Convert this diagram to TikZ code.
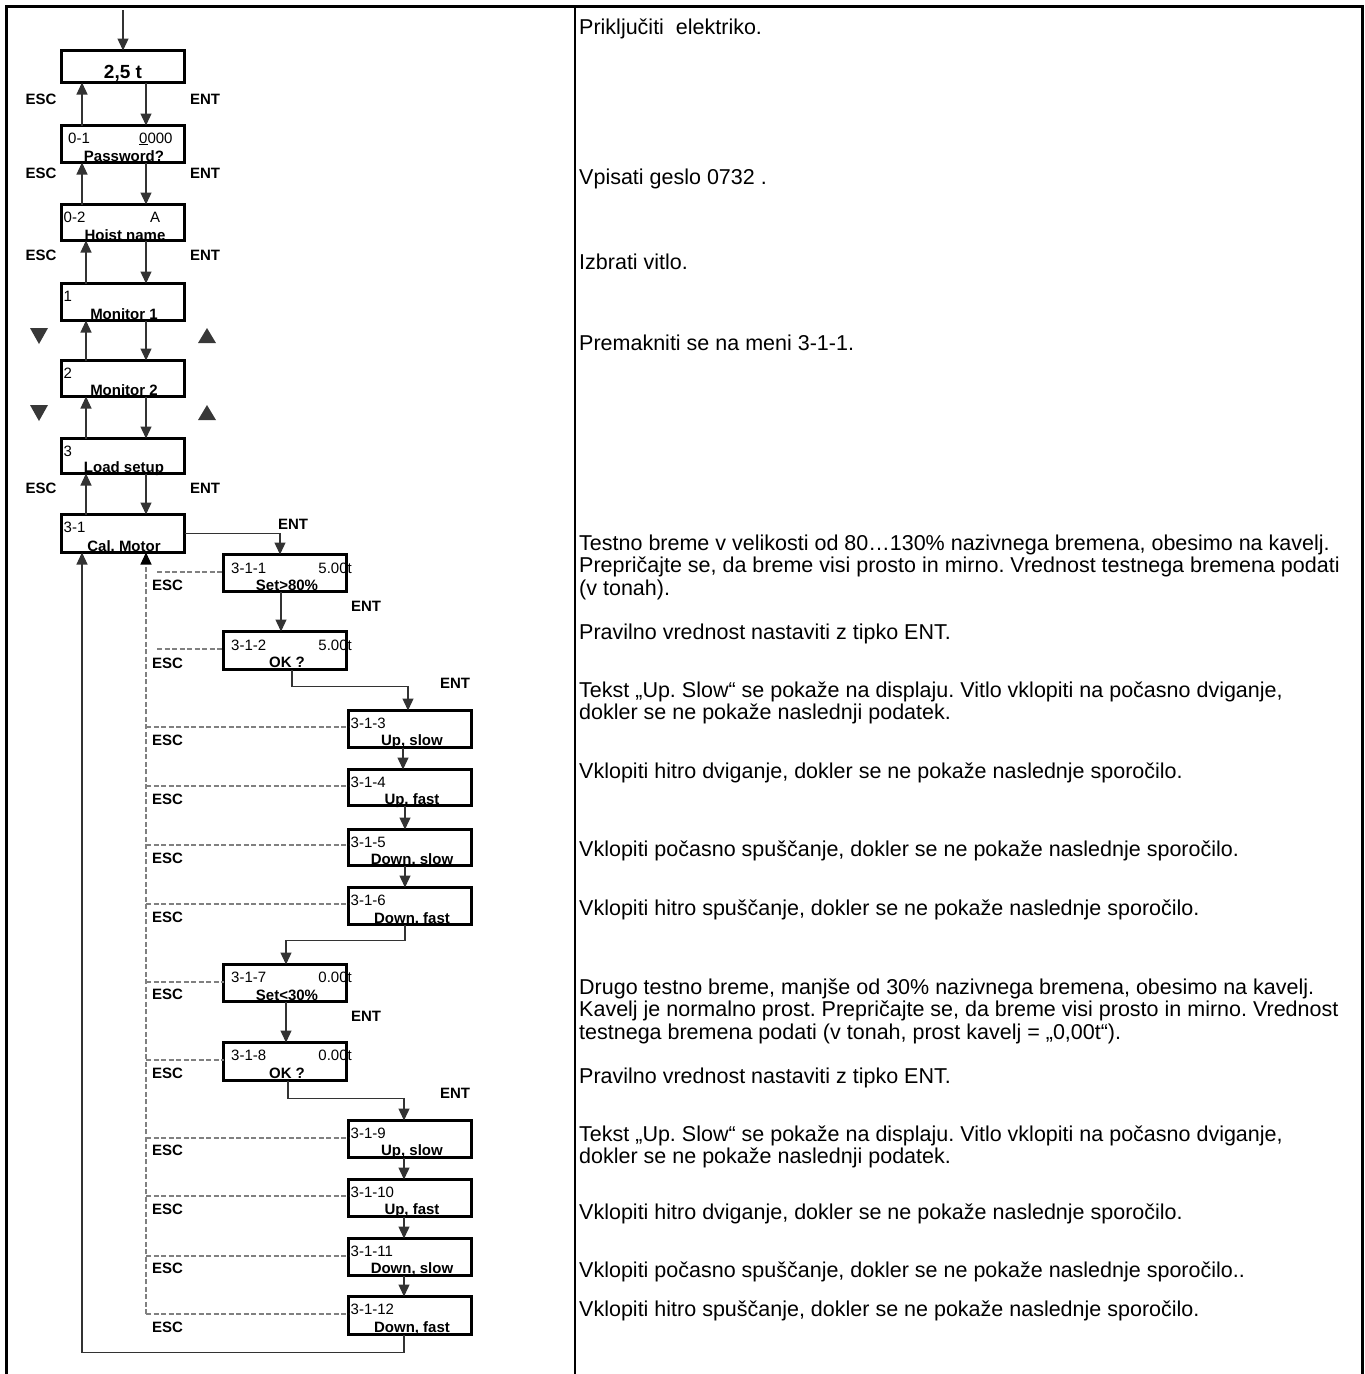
\documentclass[tikz,border=0pt]{standalone}
\usepackage{fontspec}
\setmainfont{Liberation Sans}
\usetikzlibrary{arrows.meta,calc}
\pgfdeclarelayer{txt}
\pgfsetlayers{txt,main}
\frenchspacing

\tikzset{
  lcd/.style={draw=black, line width=3pt, inner sep=0pt, outer sep=0pt},
  con/.style={draw=black!80, line width=1.3pt},
  arr/.style={con, -{Triangle[width=11pt,length=12pt]}},
  dsh/.style={draw=black!50, line width=1.2pt, dash pattern=on 5pt off 2.5pt},
  dsharr/.style={dsh, -{Triangle[width=11pt,length=12pt,color=black]}},
  key/.style={font=\fontsize{15}{15}\selectfont\bfseries, inner sep=0pt},
  tl/.style={font=\fontsize{15}{15}\selectfont, inner sep=0pt, anchor=base west},
  tr/.style={font=\fontsize{15}{15}\selectfont, inner sep=0pt, anchor=base east},
  bl/.style={font=\fontsize{15}{15}\selectfont\bfseries, inner sep=0pt, anchor=base},
  note/.style={font=\fontsize{21.5}{22.5}\selectfont, inner sep=0pt, anchor=base west, align=left},
  frame/.style={draw=black, line width=3pt},
  tri/.style={fill=black!78},
}

% box from outer corners (x1,y1)-(x2,y2), y measured downwards
\newcommand\lcdbox[5]{%
  \node[lcd, minimum width={#4-#2-3}, minimum height={#5-#3-3}]
    (#1) at ({(#2+#4)/2},{(#3+#5)/2}) {};}

\begin{document}
\begin{tikzpicture}[x=1pt,y=-1pt]
\useasboundingbox (0,0) rectangle (1365,1374);

% table frame
\draw[frame] (6,1374) -- (6,6) -- (1362,6) -- (1362,1374);
\draw[draw=black, line width=2pt] (575,6) -- (575,1374);

% ---------- menu displays ----------
\lcdbox{b0}{60}{49}{186}{84}
\lcdbox{b01}{60}{124}{186}{164}
\lcdbox{b02}{60}{203}{186}{242}
\lcdbox{b1}{60}{282}{186}{322}
\lcdbox{b2}{60}{359}{186}{398}
\lcdbox{b3}{60}{437}{186}{475}
\lcdbox{b31}{60}{513}{186}{554}
\lcdbox{c1}{222}{553}{348}{593}
\lcdbox{c2}{222}{630}{348}{671}
\lcdbox{c3}{347}{709}{473}{749}
\lcdbox{c4}{347}{768}{473}{807}
\lcdbox{c5}{347}{828}{473}{867}
\lcdbox{c6}{347}{886}{473}{926}
\lcdbox{c7}{222}{963}{348}{1003}
\lcdbox{c8}{222}{1041}{348}{1082}
\lcdbox{c9}{347}{1119}{473}{1159}
\lcdbox{c10}{347}{1178}{473}{1218}
\lcdbox{c11}{347}{1237}{473}{1277}
\lcdbox{c12}{347}{1295}{473}{1336}

% display texts (under the box borders)
\begin{pgfonlayer}{txt}
\node[font=\fontsize{19}{19}\selectfont\bfseries, inner sep=0pt, anchor=base] at (123,78) {2,5 t};
\node[tl] at (68,143) {0-1};
\node[tl] at (139,143) {\underline{0}000};
\node[bl] at (124,161) {Password?};
\node[tl] at (63.5,222) {0-2};
\node[tl] at (150,222) {A};
\node[bl] at (125,240) {Hoist name};
\node[tl] at (63.5,301) {1};
\node[bl] at (124,319) {Monitor 1};
\node[tl] at (63.5,378) {2};
\node[bl] at (124,395) {Monitor 2};
\node[tl] at (63.5,456) {3};
\node[bl] at (124,472) {Load setup};
\node[tl] at (63.5,532) {3-1};
\node[bl] at (124,551) {Cal. Motor};
\node[tl] at (231,573) {3-1-1};
\node[tr] at (352,573) {5.00t};
\node[bl] at (287,590) {Set>80\%};
\node[tl] at (231,650) {3-1-2};
\node[tr] at (352,650) {5.00t};
\node[bl] at (287,667) {OK ?};
\node[tl] at (350.5,728) {3-1-3};
\node[bl] at (412,745) {Up, slow};
\node[tl] at (350.5,787) {3-1-4};
\node[bl] at (412,804) {Up, fast};
\node[tl] at (350.5,847) {3-1-5};
\node[bl] at (412,864) {Down, slow};
\node[tl] at (350.5,905) {3-1-6};
\node[bl] at (412,923) {Down, fast};
\node[tl] at (231,982) {3-1-7};
\node[tr] at (352,982) {0.00t};
\node[bl] at (287,1000) {Set<30\%};
\node[tl] at (231,1060) {3-1-8};
\node[tr] at (352,1060) {0.00t};
\node[bl] at (287,1078) {OK ?};
\node[tl] at (350.5,1138) {3-1-9};
\node[bl] at (412,1155) {Up, slow};
\node[tl] at (350.5,1197) {3-1-10};
\node[bl] at (412,1214) {Up, fast};
\node[tl] at (350.5,1256) {3-1-11};
\node[bl] at (412,1273) {Down, slow};
\node[tl] at (350.5,1314) {3-1-12};
\node[bl] at (412,1332) {Down, fast};
\end{pgfonlayer}

% ---------- key labels ----------
\node[key] (esc0) at (41,99) {ESC};  \node[key] (ent0) at (205,99) {ENT};
\node[key] (esc1) at (41,173) {ESC}; \node[key] (ent1) at (205,173) {ENT};
\node[key] (esc2) at (41,255) {ESC}; \node[key] (ent2) at (205,255) {ENT};
\node[key] (esc3) at (41,488) {ESC}; \node[key] (ent3) at (205,488) {ENT};
\node[key] (ent4) at (293,524) {ENT};
\node[key] (ent5) at (366,606) {ENT};
\node[key] (ent6) at (455,683) {ENT};
\node[key] (ent7) at (366,1016) {ENT};
\node[key] (ent8) at (455,1093) {ENT};
\foreach \y/\n in {585/1,663/2,740/3,799/4,858/5,917/6,994/7,1073/8,1150/9,1209/10,1268/11,1327/12}
  \node[key, anchor=west] (escc\n) at (152,\y) {ESC};

% down / up key symbols
\foreach \y in {336,413}{
  \fill[tri] (30,\y-8) -- (48,\y-8) -- (39,\y+8) -- cycle;
  \fill[tri] (198,\y+7) -- (216,\y+7) -- (207,\y-8) -- cycle;
}

% ---------- connectors: main menu ----------
\coordinate (start) at (123,10);
\draw[arr] (start) -- (b0.north);
\foreach \a/\b/\u in {b0/b01/-41,b01/b02/-41,b02/b1/-37,b1/b2/-37,b2/b3/-37,b3/b31/-37}{
  \draw[arr] ([xshift=23pt]\a.south) -- ([xshift=23pt]\b.north);
  \draw[arr] ([xshift=\u pt]\b.north) -- ([xshift=\u pt]\a.south);
}

% ---------- connectors: calibration sequence ----------
\draw[arr] (b31.east) -| ([xshift=-5pt]c1.north);
\draw[arr] ([xshift=-4pt]c1.south) -- ([xshift=-4pt]c2.north);
\draw[arr] ([xshift=7pt]c2.south) -- ++(0,17) -| ([xshift=-2pt]c3.north);
\draw[arr] ([xshift=-7pt]c3.south) -- ([xshift=-7pt]c4.north);
\draw[arr] ([xshift=-5pt]c4.south) -- ([xshift=-5pt]c5.north);
\draw[arr] ([xshift=-5pt]c5.south) -- ([xshift=-5pt]c6.north);
\draw[arr] ([xshift=-5pt]c6.south) -- ++(0,16) -| ([xshift=1pt]c7.north);
\draw[arr] ([xshift=1pt]c7.south) -- ([xshift=1pt]c8.north);
\draw[arr] ([xshift=3pt]c8.south) -- ++(0,18) -| ([xshift=-6pt]c9.north);
\draw[arr] ([xshift=-6pt]c9.south) -- ([xshift=-6pt]c10.north);
\draw[arr] ([xshift=-6pt]c10.south) -- ([xshift=-6pt]c11.north);
\draw[arr] ([xshift=-6pt]c11.south) -- ([xshift=-6pt]c12.north);
\draw[arr] ([xshift=-6pt]c12.south) -- ++(0,18) -| ([xshift=-41pt]b31.south);

% ESC returns (dashed)
\coordinate (escend) at (146,1314);
\draw[dsharr] (escend) -- ([xshift=23pt]b31.south);
\draw[dsh] (157,572) -- (c1.west |- 0,572);
\draw[dsh] (157,649) -- (c2.west |- 0,649);
\foreach \y/\n in {727/c3,786/c4,845/c5,904/c6,982/c7,1060/c8,1138/c9,1196/c10,1256/c11,1314/c12}
  \draw[dsh] (146,\y) -- (\n.west |- 0,\y);

% ---------- instructions (multi-line nodes sit on their last baseline) ----------
\node[note] (t1) at (579,34) {Priključiti\ \ elektriko.};
\node[note] (t2) at (579,184) {Vpisati geslo 0732 .};
\node[note] (t3) at (579,269) {Izbrati vitlo.};
\node[note] (t4) at (579,350) {Premakniti se na meni 3-1-1.};
\node[note] (t5) at (579,595) {Testno breme v velikosti od 80…130\% nazivnega bremena, obesimo na kavelj.\\
Prepričajte se, da breme visi prosto in mirno. Vrednost testnega bremena podati\\
(v tonah).};
\node[note] (t6) at (579,639) {Pravilno vrednost nastaviti z tipko ENT.};
\node[note] (t7) at (579,719.5) {Tekst „Up. Slow“ se pokaže na displaju. Vitlo vklopiti na počasno dviganje,\\
dokler se ne pokaže naslednji podatek.};
\node[note] (t8) at (579,778) {Vklopiti hitro dviganje, dokler se ne pokaže naslednje sporočilo.};
\node[note] (t9) at (579,856) {Vklopiti počasno spuščanje, dokler se ne pokaže naslednje sporočilo.};
\node[note] (t10) at (579,915) {Vklopiti hitro spuščanje, dokler se ne pokaže naslednje sporočilo.};
\node[note] (t11) at (579,1039) {Drugo testno breme, manjše od 30\% nazivnega bremena, obesimo na kavelj.\\
Kavelj je normalno prost. Prepričajte se, da breme visi prosto in mirno. Vrednost\\
testnega bremena podati (v tonah, prost kavelj = „0,00t“).};
\node[note] (t12) at (579,1083) {Pravilno vrednost nastaviti z tipko ENT.};
\node[note] (t13) at (579,1163.5) {Tekst „Up. Slow“ se pokaže na displaju. Vitlo vklopiti na počasno dviganje,\\
dokler se ne pokaže naslednji podatek.};
\node[note] (t14) at (579,1219) {Vklopiti hitro dviganje, dokler se ne pokaže naslednje sporočilo.};
\node[note] (t15) at (579,1277) {Vklopiti počasno spuščanje, dokler se ne pokaže naslednje sporočilo..};
\node[note] (t16) at (579,1316) {Vklopiti hitro spuščanje, dokler se ne pokaže naslednje sporočilo.};
\end{tikzpicture}
\end{document}
